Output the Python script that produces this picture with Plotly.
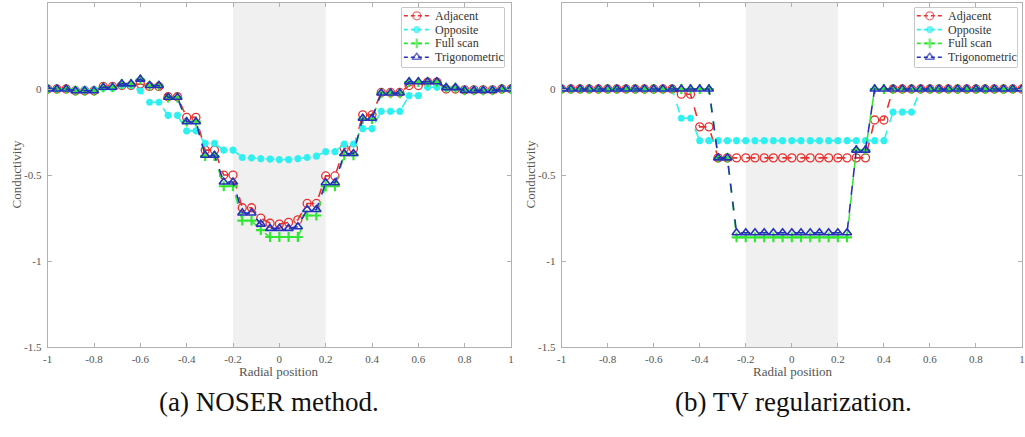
import plotly.graph_objects as go

# ---------------- data ----------------
radial_position = [-1.0, -0.96, -0.92, -0.88, -0.84, -0.8, -0.76, -0.72, -0.68, -0.64,
                   -0.6, -0.56, -0.52, -0.48, -0.44, -0.4, -0.36, -0.32, -0.28, -0.24,
                   -0.2, -0.16, -0.12, -0.08, -0.04, 0.0, 0.04, 0.08, 0.12, 0.16,
                   0.2, 0.24, 0.28, 0.32, 0.36, 0.4, 0.44, 0.48, 0.52, 0.56,
                   0.6, 0.64, 0.68, 0.72, 0.76, 0.8, 0.84, 0.88, 0.92, 0.96, 1.0]

series_names = ["Adjacent", "Opposite", "Full scan", "Trigonometric"]

# NOSER method
noser_adjacent = [0, 0, 0, -0.01, -0.01, -0.01, 0.015, 0.015, 0.02, 0.02,
                  0.03, 0.015, 0.015, -0.045, -0.045, -0.165, -0.165, -0.355, -0.355, -0.50,
                  -0.50, -0.69, -0.69, -0.75, -0.78, -0.785, -0.775, -0.76, -0.665, -0.665,
                  -0.505, -0.505, -0.345, -0.345, -0.15, -0.15, -0.02, -0.02, -0.02, 0.02,
                  0.02, 0.04, 0.04, 0.0, 0.0, -0.005, -0.005, -0.005, -0.005, 0, 0]
noser_opposite = [0, 0, 0, -0.005, -0.005, -0.005, 0.005, 0.005, 0.02, 0.02,
                  -0.01, -0.077, -0.077, -0.153, -0.153, -0.243, -0.243, -0.316, -0.316, -0.355,
                  -0.355, -0.398, -0.40, -0.405, -0.407, -0.41, -0.41, -0.405, -0.398, -0.39,
                  -0.364, -0.364, -0.32, -0.32, -0.23, -0.23, -0.13, -0.13, -0.13, -0.038,
                  -0.038, 0.01, 0.01, 0.005, 0.005, -0.005, -0.005, -0.005, -0.005, 0, 0]
noser_full = [0, 0, 0, -0.01, -0.01, -0.01, 0.01, 0.01, 0.03, 0.03,
              0.055, 0.02, 0.02, -0.05, -0.05, -0.19, -0.19, -0.39, -0.39, -0.565,
              -0.565, -0.765, -0.765, -0.82, -0.86, -0.86, -0.86, -0.86, -0.735, -0.735,
              -0.565, -0.565, -0.385, -0.385, -0.175, -0.175, -0.025, -0.025, -0.025, 0.04,
              0.04, 0.04, 0.04, 0.008, 0.008, -0.008, -0.008, -0.008, -0.008, 0, 0]
noser_trig = [0, 0, 0, -0.01, -0.01, -0.01, 0.01, 0.01, 0.03, 0.03,
              0.057, 0.02, 0.02, -0.048, -0.048, -0.19, -0.19, -0.385, -0.385, -0.54,
              -0.54, -0.72, -0.72, -0.785, -0.81, -0.81, -0.81, -0.80, -0.70, -0.70,
              -0.545, -0.545, -0.375, -0.375, -0.17, -0.17, -0.023, -0.023, -0.023, 0.042,
              0.042, 0.042, 0.042, 0.008, 0.008, -0.008, -0.008, -0.008, -0.008, 0, 0]

# TV regularization
tv_adjacent = [0] * 13 + [-0.03, -0.03, -0.22, -0.22] + [-0.40] * 17 + [-0.18, -0.18] + [0] * 15
tv_opposite = [0] * 13 + [-0.17, -0.17] + [-0.30] * 21 + [-0.134, -0.134, -0.134] + [0] * 12
tv_full = [0] * 17 + [-0.40, -0.40] + [-0.862] * 13 + [-0.355, -0.355] + [0] * 17
tv_trig = [0] * 17 + [-0.40, -0.40] + [-0.835] * 13 + [-0.355, -0.355] + [0] * 17

x_tick_vals = [-1, -0.8, -0.6, -0.4, -0.2, 0, 0.2, 0.4, 0.6, 0.8, 1]
x_tick_text = ["-1", "-0.8", "-0.6", "-0.4", "-0.2", "0", "0.2", "0.4", "0.6", "0.8", "1"]
y_tick_vals = [0.5, 0, -0.5, -1, -1.5]
y_tick_text = ["0.5", "0", "-0.5", "-1", "-1.5"]
captions = ["(a) NOSER method.", "(b) TV regularization."]
x_title = "Radial position"
y_title = "Conductivity"

# ---------------- styles ----------------
styles = [
    dict(color="#e8312f", symbol="circle-open", size=8, mlw=1.3),
    dict(color="#2ff0f0", symbol="asterisk-open", size=6, mlw=2.2),
    dict(color="#33e633", symbol="cross-thin-open", size=7, mlw=2.2),
    dict(color="#2630b8", symbol="triangle-up-open", size=8, mlw=1.6),
]

SERIF = "Liberation Serif, DejaVu Serif, serif"
W, H = 1025, 437
AX_GRAY = "#b0b0b0"
TXT_GRAY = "#555555"

fig = go.Figure()

# panel geometry (pixels)
panels = [
    dict(x0=43, x1=510, data=[noser_adjacent, noser_opposite, noser_full, noser_trig]),
    dict(x0=561, x1=1025, data=[tv_adjacent, tv_opposite, tv_full, tv_trig]),
]
Y_TOP, Y_BOT = 3, 352
y_dom = [1 - Y_BOT / H, 1 - Y_TOP / H]

axis_common = dict(showgrid=False, zeroline=False, showline=True, linecolor=AX_GRAY,
                   linewidth=1, mirror="ticks", ticks="inside", ticklen=4,
                   tickcolor=AX_GRAY, tickfont=dict(family=SERIF, size=11, color=TXT_GRAY))

layout = dict(width=W, height=H, margin=dict(l=0, r=0, t=0, b=0),
              paper_bgcolor="white", plot_bgcolor="white", showlegend=False)
shapes = []
annotations = []

for p, panel in enumerate(panels):
    xa = "x" if p == 0 else "x2"
    ya = "y" if p == 0 else "y2"
    xk = "xaxis" if p == 0 else "xaxis2"
    yk = "yaxis" if p == 0 else "yaxis2"
    layout[xk] = dict(domain=[panel["x0"] / W, panel["x1"] / W], range=[-1, 1],
                      tickvals=x_tick_vals, ticktext=x_tick_text, anchor=ya,
                      ticklabelstandoff=2, **axis_common)
    layout[yk] = dict(domain=y_dom, range=[-1.5, 0.5], tickvals=y_tick_vals,
                      ticktext=y_tick_text, anchor=xa, ticklabelstandoff=3, **axis_common)
    shapes.append(dict(type="rect", xref=xa, yref=ya, x0=-0.2, x1=0.2, y0=-1.5, y1=0.5,
                       fillcolor="#f0f0f0", line=dict(width=0), layer="below"))
    for name, vals, st in zip(series_names, panel["data"], styles):
        fig.add_trace(go.Scatter(
            x=radial_position, y=vals, name=name, xaxis=xa, yaxis=ya,
            mode="lines+markers",
            line=dict(color=st["color"], width=1.6, dash="dash"),
            marker=dict(symbol=st["symbol"], size=st["size"], color=st["color"],
                        line=dict(color=st["color"], width=st["mlw"])),
        ))

    annotations.append(dict(text=y_title, x=(12 if p == 0 else 530) / W, y=1 - 177 / H,
                            xref="paper", yref="paper", xanchor="center", yanchor="middle",
                            textangle=-90, showarrow=False,
                            font=dict(family=SERIF, size=13, color=TXT_GRAY)))
    annotations.append(dict(text=x_title, x=(276 if p == 0 else 794) / W, y=1 - 377 / H,
                            xref="paper", yref="paper", xanchor="center", yanchor="middle",
                            showarrow=False, font=dict(family=SERIF, size=13, color=TXT_GRAY)))
    annotations.append(dict(text=captions[p], x=(266 if p == 0 else 795) / W, y=1 - 408 / H,
                            xref="paper", yref="paper", xanchor="center", yanchor="middle",
                            showarrow=False, font=dict(family=SERIF, size=27, color="#111111")))

    # ---- legend box (drawn on an overlay axis spanning the legend area) ----
    lx0 = 400 + 517 * p
    lx1 = lx0 + 103
    ly0, ly1 = 8, 68
    lxa = "x%d" % (3 + p)
    lya = "y%d" % (3 + p)
    layout["xaxis%d" % (3 + p)] = dict(domain=[lx0 / W, lx1 / W], range=[0, 103],
                                       visible=False, fixedrange=True)
    layout["yaxis%d" % (3 + p)] = dict(domain=[1 - ly1 / H, 1 - ly0 / H], range=[60, 0],
                                       visible=False, fixedrange=True, anchor=lxa)
    shapes.append(dict(type="rect", xref="paper", yref="paper",
                       x0=lx0 / W, x1=lx1 / W, y0=1 - ly1 / H, y1=1 - ly0 / H,
                       fillcolor="white", line=dict(color="#9a9a9a", width=1), layer="below"))
    for i, (name, st) in enumerate(zip(series_names, styles)):
        ry = 8 + 14 * i
        fig.add_trace(go.Scatter(
            x=[2, 15, 28], y=[ry, ry, ry], xaxis=lxa, yaxis=lya, mode="lines+markers",
            hoverinfo="skip", showlegend=False,
            line=dict(color=st["color"], width=1.6, dash="4px,3px"),
            marker=dict(symbol=st["symbol"], size=[0, st["size"], 0], color=st["color"],
                        line=dict(color=st["color"], width=st["mlw"])),
        ))
        annotations.append(dict(text=name, x=31, y=ry, xref=lxa, yref=lya,
                                xanchor="left", yanchor="middle", showarrow=False,
                                font=dict(family=SERIF, size=12, color="#333333")))

layout["shapes"] = shapes
layout["annotations"] = annotations
fig.update_layout(**layout)

fig.write_html("out.html", config={"displayModeBar": False},
               post_script="document.body.style.margin='0';")
